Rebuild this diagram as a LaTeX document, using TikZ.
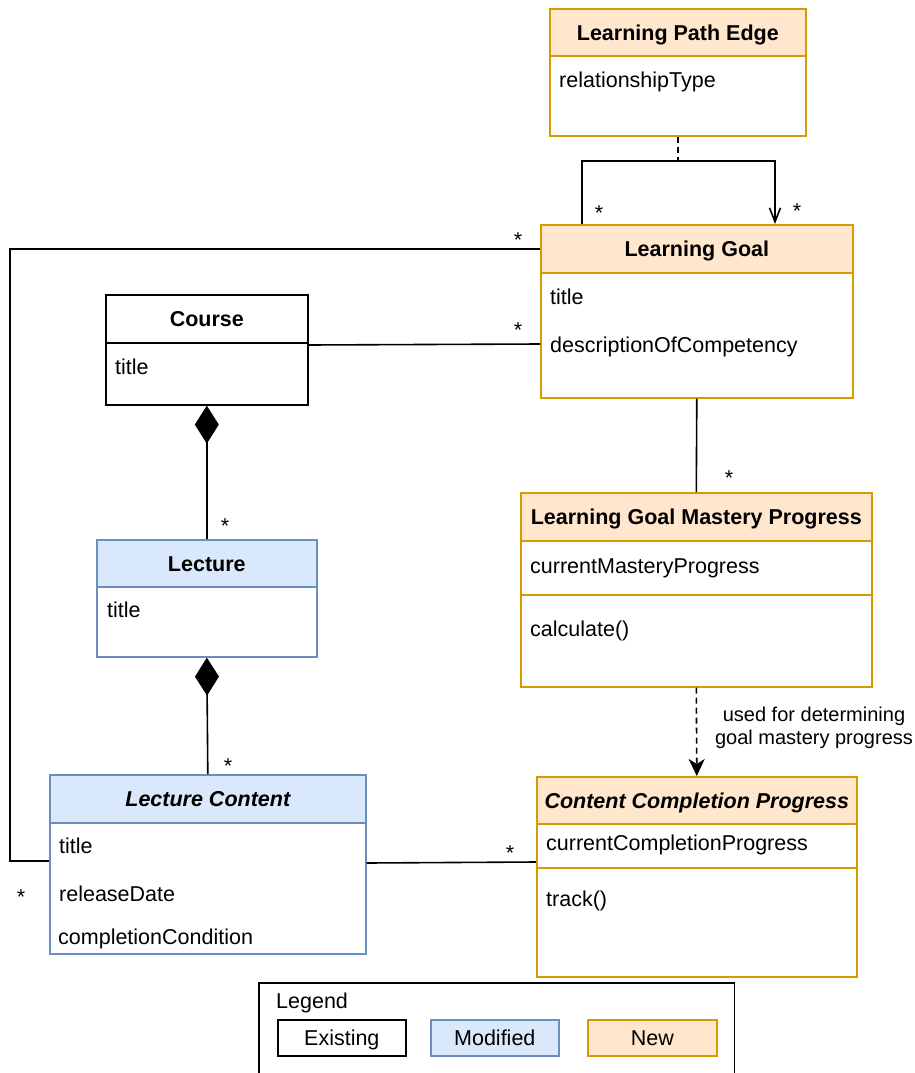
\documentclass[tikz,border=0pt]{standalone}
\usepackage{fontspec}
\setmainfont{Liberation Sans}
\usetikzlibrary{arrows.meta,calc}
\definecolor{ofill}{HTML}{FFE6CC}
\definecolor{ostroke}{HTML}{D79B00}
\definecolor{bfill}{HTML}{DAE8FC}
\definecolor{bstroke}{HTML}{6C8EBF}
\begin{document}
\begin{tikzpicture}[x=1pt,y=-1pt,
  every node/.style={font=\fontsize{21.5}{26}\selectfont},
  body/.style={draw, line width=1.6pt, fill=white, inner sep=0pt, anchor=north west},
  hdr/.style={draw, line width=1.6pt, inner sep=0pt, anchor=north west, text height=15.5pt, text depth=0pt, font=\bfseries\fontsize{21.5}{26}\selectfont},
  hdri/.style={hdr, font=\bfseries\itshape\fontsize{21.5}{26}\selectfont},
  attr/.style={anchor=base west, inner sep=0pt},
  mult/.style={anchor=base, inner sep=0pt},
  existing/.style={draw=black, fill=white},
  modified/.style={draw=bstroke, fill=bfill},
  newc/.style={draw=ostroke, fill=ofill},
  conn/.style={line width=1.6pt, black},
  legbox/.style={draw, line width=1.6pt, inner sep=0pt, anchor=north west, minimum height=36pt, text height=15.5pt, text depth=0pt},
]
\useasboundingbox (0,0) rectangle (914,1073);

% ---- classes ----
% Learning Path Edge
\node[body, draw=ostroke, minimum width=256pt, minimum height=127pt] (lpe) at (549,8) {};
\node[hdr, newc, minimum width=256pt, minimum height=47pt] (lpeh) at (lpe.north west) {Learning Path Edge};
\node[attr] (lpea1) at (559,87) {relationshipType};

% Learning Goal
\node[body, draw=ostroke, minimum width=312pt, minimum height=173pt] (lg) at (540,224) {};
\node[hdr, newc, minimum width=312pt, minimum height=48pt] (lgh) at (lg.north west) {Learning Goal};
\node[attr] (lga1) at (550,304) {title};
\node[attr] (lga2) at (550,352) {descriptionOfCompetency};

% Course
\node[body, draw=black, minimum width=202pt, minimum height=110pt] (course) at (105,294) {};
\node[hdr, existing, minimum width=202pt, minimum height=48pt] (courseh) at (course.north west) {Course};
\node[attr] (coursea1) at (115,374) {title};

% Lecture
\node[body, draw=bstroke, minimum width=220pt, minimum height=117pt] (lec) at (96,539) {};
\node[hdr, modified, minimum width=220pt, minimum height=47pt] (lech) at (lec.north west) {Lecture};
\node[attr] (leca1) at (107,617) {title};

% Learning Goal Mastery Progress
\node[body, draw=ostroke, minimum width=351pt, minimum height=194pt] (lgmp) at (520,492) {};
\node[hdr, newc, minimum width=351pt, minimum height=48pt] (lgmph) at (lgmp.north west) {Learning Goal Mastery Progress};
\draw[ostroke, line width=1.6pt] ($(lgmp.north west)+(0,103)$) -- ($(lgmp.north east)+(0,103)$);
\node[attr] (lgmpa1) at (530,573) {currentMasteryProgress};
\node[attr] (lgmpm1) at (530,636) {calculate()};

% Lecture Content
\node[body, draw=bstroke, minimum width=316pt, minimum height=179pt] (lc) at (49,774) {};
\node[hdri, modified, minimum width=316pt, minimum height=48pt] (lch) at (lc.north west) {Lecture Content};
\node[attr] (lca1) at (59,853) {title};
\node[attr] (lca2) at (59,901) {releaseDate};
\node[attr] (lca3) at (58,944) {completionCondition};

% Content Completion Progress
\node[body, draw=ostroke, minimum width=320pt, minimum height=200pt] (ccp) at (536,776) {};
\node[hdri, newc, minimum width=320pt, minimum height=47pt] (ccph) at (ccp.north west) {Content Completion Progress};
\draw[ostroke, line width=1.6pt] ($(ccp.north west)+(0,92)$) -- ($(ccp.north east)+(0,92)$);
\node[attr] (ccpa1) at (546,850) {currentCompletionProgress};
\node[attr] (ccpm1) at (546,906) {track()};

% ---- connectors ----
\coordinate (loopL) at (582,161);
\coordinate (loopR) at (775,161);
\coordinate (rail) at (10,0);

\draw[conn, dash pattern=on 6pt off 4pt] (lpe.south) -- (lpe.south |- loopL);
\draw[conn, -{Straight Barb[length=14pt,width=11pt]}] (loopL |- lg.north) -- (loopL) -- (loopR) -- (loopR |- lg.north);

\draw[conn] (lgh.west) -- (lgh.west -| rail) |- ($(lc.north west)+(0,87)$);
\draw[conn] ($(course.north east)+(0,51)$) -- ($(lg.north west)+(0,120)$);
\draw[conn, -{Diamond[length=38pt,width=24pt]}] (lec.north) -- (course.south);
\draw[conn, -{Diamond[length=38pt,width=24pt]}] (lc.north) -- (lec.south);
\draw[conn] (lg.south) -- (lgmp.north);
\draw[conn, dash pattern=on 6pt off 4pt, -{Stealth[length=17pt,width=16pt,inset=5pt]}] (lgmp.south) -- (ccp.north);
\draw[conn] ($(lc.north east)+(0,89)$) -- ($(ccp.north west)+(0,86)$);

\node[align=center, inner sep=0pt, font=\fontsize{20}{23}\selectfont] (usedlbl) at (814,728) {used for determining\\goal mastery progress};

% multiplicities
\node[mult] (m1) at (599,220) {*};
\node[mult] (m2) at (797,218) {*};
\node[mult] (m3) at (518,247) {*};
\node[mult] (m4) at (518,337) {*};
\node[mult] (m5) at (225,533) {*};
\node[mult] (m6) at (228,773) {*};
\node[mult] (m7) at (729,485) {*};
\node[mult] (m8) at (510,860) {*};
\node[mult] (m9) at (21,904) {*};

% ---- legend ----
\node[anchor=north west, minimum width=475pt, minimum height=95pt, inner sep=0pt] (legend) at (259,983) {};
\draw[conn] (legend.south west) |- (legend.north east) -- (legend.south east);
\node[attr] (legtitle) at (276,1008) {Legend};
\node[legbox, existing, minimum width=128pt] (legex) at (277,1019) {Existing};
\node[legbox, modified, minimum width=128pt] (legmod) at (430,1019) {Modified};
\node[legbox, newc, minimum width=129pt] (legnew) at (587,1019) {New};
\end{tikzpicture}
\end{document}
